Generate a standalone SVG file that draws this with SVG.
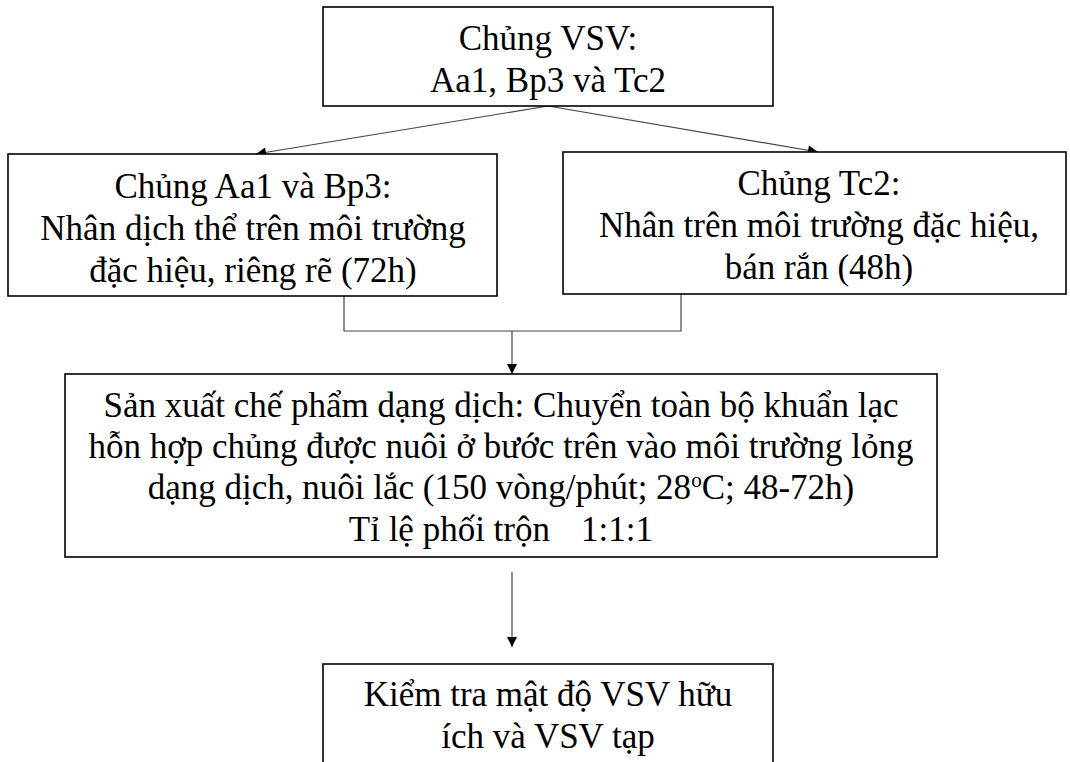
<svg xmlns="http://www.w3.org/2000/svg" width="1070" height="762" viewBox="0 0 1070 762">
<defs>
<style>
.box{fill:#fff;stroke:#000;stroke-width:1.6}
.t{font-family:"Liberation Serif","Times New Roman",serif;font-size:35px;fill:#000;text-anchor:middle}
.c{fill:none;stroke:#444;stroke-width:1.2}
</style>
<marker id="ah" viewBox="0 0 10 10" refX="10" refY="5" markerWidth="11" markerHeight="10" markerUnits="userSpaceOnUse" orient="auto">
<path d="M0,0 L10,5 L0,10 z" fill="#000"/>
</marker>
</defs>
<rect width="1070" height="762" fill="#fff"/>
<g id="connectors">
<line class="c" x1="548" y1="106" x2="256" y2="154" marker-end="url(#ah)"/>
<line class="c" x1="548" y1="106" x2="818" y2="152" marker-end="url(#ah)"/>
<polyline class="c" points="344,296 344,331 681,331 681,294"/>
<line class="c" x1="512" y1="331" x2="512" y2="374" marker-end="url(#ah)"/>
<line class="c" x1="512" y1="572" x2="512" y2="647" marker-end="url(#ah)"/>
</g>
<g id="n1">
<rect class="box" x="323" y="7" width="450" height="99"/>
<text class="t" x="548" y="50">Chủng VSV:</text>
<text class="t" x="548" y="92">Aa1, Bp3 và Tc2</text>
</g>
<g id="n2">
<rect class="box" x="8" y="154" width="489" height="142"/>
<text class="t" x="253" y="198">Chủng Aa1 và Bp3:</text>
<text class="t" x="253" y="240">Nhân dịch thể trên môi trường</text>
<text class="t" x="253" y="282">đặc hiệu, riêng rẽ (72h)</text>
</g>
<g id="n3">
<rect class="box" x="563" y="152" width="503" height="142"/>
<text class="t" x="819" y="195">Chủng Tc2:</text>
<text class="t" x="819" y="237">Nhân trên môi trường đặc hiệu,</text>
<text class="t" x="819" y="279">bán rắn (48h)</text>
</g>
<g id="n4">
<rect class="box" x="65" y="374" width="872" height="183"/>
<text class="t" x="501" y="417">Sản xuất chế phẩm dạng dịch: Chuyển toàn bộ khuẩn lạc</text>
<text class="t" x="501" y="458">hỗn hợp chủng được nuôi ở bước trên vào môi trường lỏng</text>
<text class="t" x="501" y="499">dạng dịch, nuôi lắc (150 vòng/phút; 28<tspan font-size="21" dy="-12">o</tspan><tspan dy="12">C; 48-72h)</tspan></text>
<text class="t" x="550" y="541" style="text-anchor:end">Tỉ lệ phối trộn</text>
<text class="t" x="581" y="541" style="text-anchor:start">1:1:1</text>
</g>
<g id="n5">
<rect class="box" x="323" y="664" width="450" height="110"/>
<text class="t" x="548" y="706">Kiểm tra mật độ VSV hữu</text>
<text class="t" x="548" y="748">ích và VSV tạp</text>
</g>
</svg>
